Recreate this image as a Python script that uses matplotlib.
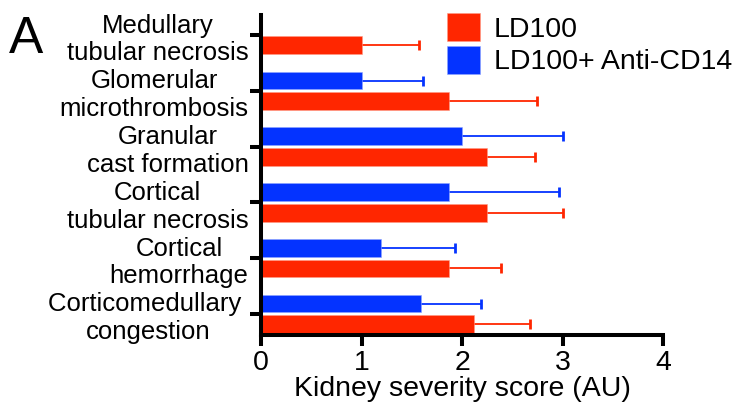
import numpy as np
import matplotlib
matplotlib.use("Agg")
import matplotlib.pyplot as plt

plt.rcParams['font.family'] = ['Liberation Sans', 'DejaVu Sans']

# categories top to bottom, blue bar sits above the tick, red below
categories = ["Medullary\ntubular necrosis", "Glomerular\nmicrothrombosis",
              "Granular\ncast formation", "Cortical\ntubular necrosis",
              "Cortical\nhemorrhage", "Corticomedullary \ncongestion"]
ld100_mean = [1.0, 1.87, 2.25, 2.25, 1.875, 2.12]
ld100_err = [0.57, 0.88, 0.48, 0.75, 0.51, 0.56]
anti_mean = [np.nan, 1.0, 2.0, 1.875, 1.19, 1.595]
anti_err = [np.nan, 0.61, 1.0, 1.09, 0.74, 0.59]
series_names = ["LD100", "LD100+ Anti-CD14"]

RED = "#FF2600"
BLUE = "#0433FF"
LW = 2.9


def draw_errors(ax, means, ypos, errs, color):
    zeros = np.zeros(len(means))
    cont = ax.errorbar(means, ypos, xerr=[zeros, errs], fmt='none', ecolor=color,
                       elinewidth=1.3, capsize=3.5, capthick=2, zorder=1.5)
    # only the outer cap should show, drop the one sitting on the bar end
    caps = cont[1]
    if len(caps) > 0:
        caps[0].set_visible(False)
    return cont


fig = plt.figure(figsize=(7.41, 4.03), dpi=100)
ax = fig.add_axes([261 / 741, 1 - 334.5 / 403, 402 / 741, 319.5 / 403])

y = np.arange(len(categories))
off = 0.185
h = 0.32

ax.barh(y + off, ld100_mean, height=h, color=RED, edgecolor="#ff9a85", linewidth=0.4,
        label=series_names[0], zorder=2)
ax.barh(y - off, anti_mean, height=h, color=BLUE, edgecolor="#8fa6ff", linewidth=0.4,
        label=series_names[1], zorder=2)
draw_errors(ax, ld100_mean, y + off, ld100_err, RED)
draw_errors(ax, anti_mean, y - off, anti_err, BLUE)

ax.set_xlim(0, 4)
ax.set_ylim(len(categories) - 1 + 0.37, -0.36)
ax.set_xticks([0, 1, 2, 3, 4])
ax.set_yticks(y)
ax.set_yticklabels(categories, fontsize=18.5, multialignment='center')
ax.tick_params(axis='x', labelsize=20.5, width=LW, length=8, pad=3)
ax.tick_params(axis='y', width=LW, length=8, pad=1)
ax.set_xlabel("Kidney severity score (AU)", fontsize=20.5, labelpad=0)

for side in ["top", "right"]:
    ax.spines[side].set_visible(False)
for side in ["left", "bottom"]:
    ax.spines[side].set_linewidth(LW)
    ax.spines[side].set_capstyle('projecting')

leg = fig.legend(loc='upper left', bbox_to_anchor=(447 / 741, 1 - 13 / 403),
                 frameon=False, fontsize=20.5, handlelength=1.15, handleheight=1.15,
                 handletextpad=0.5, labelspacing=0.1, borderpad=0, borderaxespad=0)

fig.text(9 / 741, 1 - 53 / 403, "A", fontsize=37, va='baseline', ha='left')

fig.savefig("out.png", dpi=100)
